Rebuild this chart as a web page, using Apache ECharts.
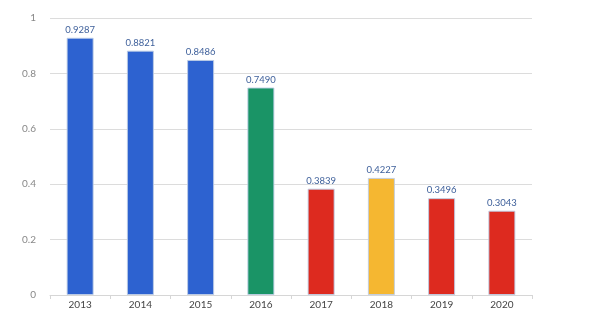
<!DOCTYPE html>
<html><head><meta charset="utf-8">
<script src="https://cdn.jsdelivr.net/npm/echarts@6/dist/echarts.min.js"></script>
<style>html,body{margin:0;padding:0;background:#fff}#c{width:597px;height:327px}</style>
</head><body><div id="c"></div>
<script>
const categories = ['2013','2014','2015','2016','2017','2018','2019','2020'];
const values = [0.9287, 0.8821, 0.8486, 0.7490, 0.3839, 0.4227, 0.3496, 0.3043];
const barColors = ['#2d62d0','#2d62d0','#2d62d0','#1a9466','#dd2a1f','#f5b731','#dd2a1f','#dd2a1f'];
const yTicks = [0, 0.2, 0.4, 0.6, 0.8, 1];

const chart = echarts.init(document.getElementById('c'), null, {renderer:'canvas'});
chart.setOption({
  animation: false,
  grid: {left: 50, right: 65, top: 18, bottom: 32},
  xAxis: {
    type: 'category', data: categories,
    axisLine: {lineStyle: {color: '#d6d6d6'}},
    axisTick: {show: true, lineStyle: {color: '#d6d6d6'}, length: 4},
    axisLabel: {color: '#444', fontSize: 10, fontFamily: 'Lato, sans-serif', margin: 5}
  },
  yAxis: {
    type: 'value', min: 0, max: 1, interval: 0.2,
    axisLine: {show: false}, axisTick: {show: false},
    splitLine: {lineStyle: {color: '#dcdcdc'}},
    axisLabel: {color: '#888', fontSize: 10, fontFamily: 'Lato, sans-serif', margin: 14,
      formatter: v => { const t = yTicks.find(x => Math.abs(x - v) < 1e-9); return t === undefined ? '' : String(t); }}
  },
  series: [{
    type: 'bar', barWidth: 27,
    data: values.map((v, i) => ({value: v, itemStyle: {color: barColors[i], borderColor: 'rgba(190,205,230,0.9)', borderWidth: 1}})),
    label: {show: true, position: 'top', distance: 3, color: '#3d5f9a', fontSize: 9.5, fontFamily: 'Lato, sans-serif',
      formatter: p => p.value.toFixed(4)}
  }]
});
</script></body></html>
